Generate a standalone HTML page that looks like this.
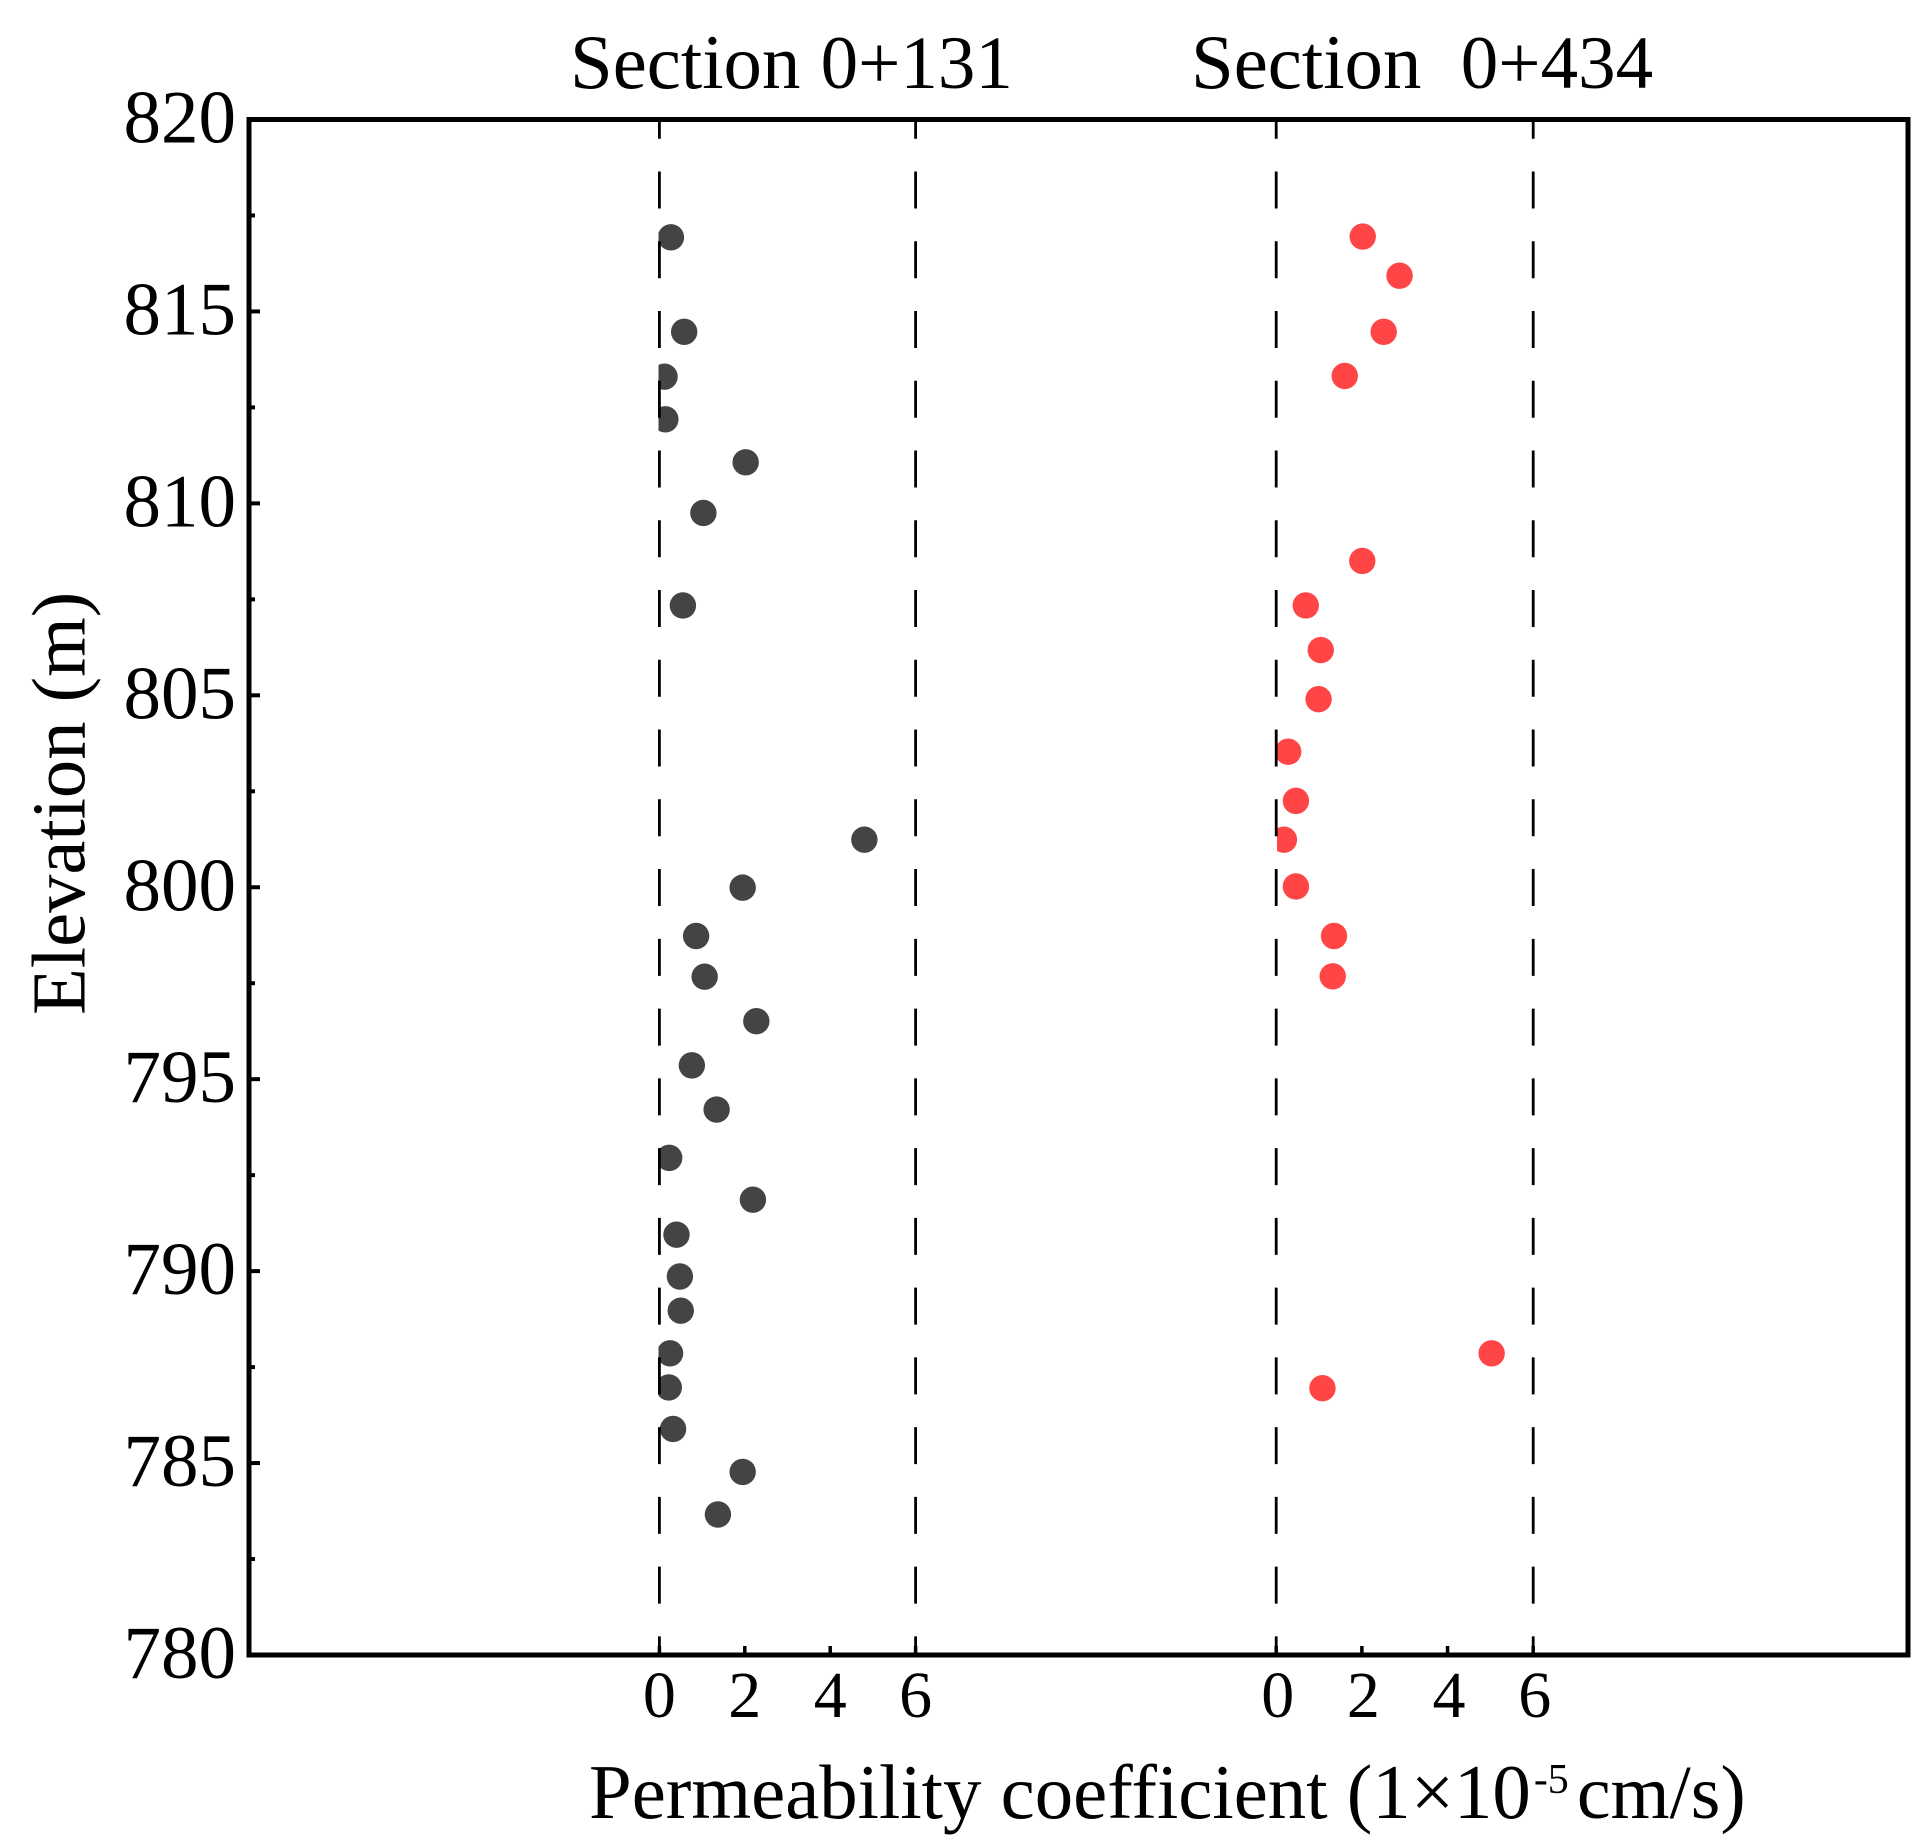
<!DOCTYPE html>
<html lang="en">
<head>
<meta charset="utf-8">
<title>Permeability coefficient by elevation</title>
<style>
html,body{margin:0;padding:0;background:#fff;}
svg{display:block;font-family:"Liberation Serif","Times New Roman",serif;fill:#000;}
</style>
</head>
<body>
<svg id="chart" xmlns="http://www.w3.org/2000/svg" width="1932" height="1847" viewBox="0 0 1932 1847">
  <rect x="0" y="0" width="1932" height="1847" fill="#fff"/>
  <defs>
    <clipPath id="clip-131"><rect x="658.5" y="119.5" width="1250" height="1535.5"/></clipPath>
    <clipPath id="clip-434"><rect x="1277" y="119.5" width="632" height="1535.5"/></clipPath>
  </defs>
  <g id="marks-131" clip-path="url(#clip-131)"></g>
  <g id="marks-434" clip-path="url(#clip-434)"></g>
  <g id="guides"></g>
  <rect x="249" y="119.5" width="1659" height="1535.5" fill="none" stroke="#000" stroke-width="5"/>
  <g id="y-axis"></g>
  <g id="x-axis-131"></g>
  <g id="x-axis-434"></g>
  <text x="570" y="88" font-size="76.8">Section <tspan font-size="75" dx="1">0+131</tspan></text>
  <text x="1191" y="88" font-size="76.8" xml:space="preserve" style="white-space:pre">Section  <tspan font-size="75" dx="1">0+434</tspan></text>
  <text transform="translate(84.5 1015) rotate(-90)" font-size="76.6">Elevation (m)</text>
  <text x="589" y="1818" font-size="76.8">Permeability coefficient (1×10<tspan font-size="42" dx="3" dy="-25">-5</tspan><tspan font-size="76" dx="8" dy="25">cm/s)</tspan></text>
</svg>
<script>
// Chart data
const yTickValues = [780, 785, 790, 795, 800, 805, 810, 815, 820];
const yMinorValues = [782.5, 787.5, 792.5, 797.5, 802.5, 807.5, 812.5, 817.5];
const xTickValues = [0, 2, 4, 6];
const guideValues = [0, 6];
const elevations131 = [816.93, 814.47, 813.30, 812.19, 811.07, 809.75, 807.34, 801.24, 799.99, 798.73, 797.67, 796.51, 795.36, 794.21, 792.95, 791.86, 790.95, 789.86, 788.97, 787.86, 786.97, 785.89, 784.77, 783.66];
const permeability131 = [0.27, 0.58, 0.12, 0.14, 2.02, 1.03, 0.55, 4.80, 1.95, 0.86, 1.06, 2.27, 0.76, 1.34, 0.23, 2.19, 0.40, 0.48, 0.50, 0.25, 0.22, 0.32, 1.95, 1.37];
const elevations434 = [816.95, 815.93, 814.47, 813.32, 808.50, 807.34, 806.18, 804.90, 803.53, 802.25, 801.24, 800.02, 798.73, 797.68, 787.86, 786.95];
const permeability434 = [2.02, 2.88, 2.51, 1.60, 2.01, 0.69, 1.04, 0.99, 0.28, 0.46, 0.18, 0.46, 1.35, 1.32, 5.03, 1.08];

// Axis functions
function yScale(v) { return 119.5 + (820 - v) * (1535.5 / 40); }
function xScale131(v) { return 659.4 + v * (256.2 / 6); }
function xScale434(v) { return 1276.2 + v * (257 / 6); }

const NS = 'http://www.w3.org/2000/svg';
function make(tag, parentId, attrs) {
  const node = document.createElementNS(NS, tag);
  for (const key in attrs) node.setAttribute(key, attrs[key]);
  document.getElementById(parentId).appendChild(node);
  return node;
}

// Points
permeability131.forEach(function (v, i) {
  const dot = make('circle', 'marks-131', { cx: xScale131(v), cy: yScale(elevations131[i]), r: 13.2, fill: '#444444' });
  
  
});
permeability434.forEach(function (v, i) {
  const dot = make('circle', 'marks-434', { cx: xScale434(v), cy: yScale(elevations434[i]), r: 13.2, fill: '#ff4545' });
  
  
});

// Dashed guide lines
function drawGuide(x) {
  const line = make('line', 'guides', { x1: x, x2: x, y1: yScale(820), y2: yScale(780), stroke: '#000', 'stroke-width': 2.8, 'stroke-dasharray': '37 32.76', 'stroke-dashoffset': 17.8 });
  
  
}
guideValues.forEach(function (v) { drawGuide(xScale131(v)); drawGuide(xScale434(v)); });

// Y axis
yTickValues.forEach(function (v) {
  const y = yScale(v);
  if (v !== 780 && v !== 820) {
    const tick = make('line', 'y-axis', { x1: 249, x2: 260, y1: y, y2: y, stroke: '#000', 'stroke-width': 4 });
    
    
  }
  const label = make('text', 'y-axis', { x: 236, y: y + 23, 'font-size': 75, 'text-anchor': 'end' });
  label.textContent = String(v);
  
  
});
yMinorValues.forEach(function (v) {
  const y = yScale(v);
  const tick = make('line', 'y-axis', { x1: 249, x2: 255, y1: y, y2: y, stroke: '#000', 'stroke-width': 4 });
  
  
});

// X axes
function drawXAxis(groupId, scale, labelShift) {
  xTickValues.forEach(function (v) {
    const x = scale(v);
    const tick = make('line', groupId, { x1: x, x2: x, y1: 1655, y2: 1646, stroke: '#000', 'stroke-width': 3.5 });
    
    
    const label = make('text', groupId, { x: x + labelShift, y: 1717, 'font-size': 66, 'text-anchor': 'middle' });
    label.textContent = String(v);
    
    
  });
}
drawXAxis('x-axis-131', xScale131, 0);
drawXAxis('x-axis-434', xScale434, 1.5);
</script>
</body>
</html>
